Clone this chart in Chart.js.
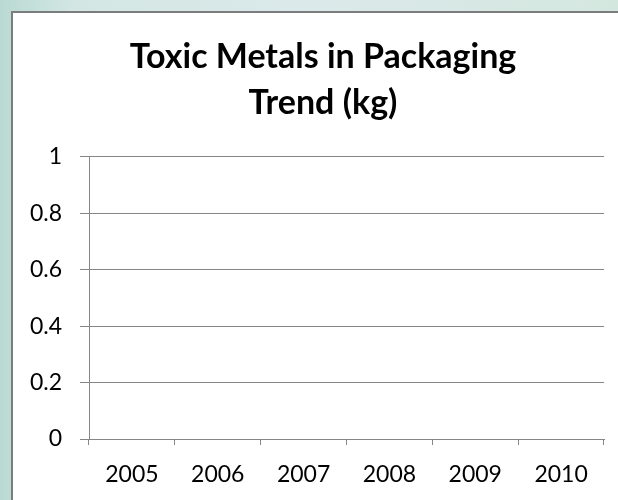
<!DOCTYPE html>
<html>
<head>
<meta charset="utf-8">
<script src="https://cdn.jsdelivr.net/npm/chart.js@4/dist/chart.umd.min.js"></script>
<style>
  html, body { margin: 0; padding: 0; }
  body {
    width: 618px; height: 500px; overflow: hidden; position: relative;
    background: linear-gradient(90deg, #b9dad2 0%, #d3e6e4 12%, #dbe9ea 50%, #d4e7df 100%);
  }
  #panel {
    position: absolute; left: 11px; top: 11px; width: 620px; height: 500px;
    background: #fff; border-left: 2px solid #7b7d7c; border-top: 2px solid #7b7d7c;
  }
  #wrap { position: absolute; left: 14px; top: 14px; width: 604px; height: 486px; }
</style>
</head>
<body>
<div id="panel"></div>
<div id="wrap"><canvas id="trendChart"></canvas></div>
<script>
const years = ['2005', '2006', '2007', '2008', '2009', '2010'];
// no values are plotted in the chart
const toxicKg = [null, null, null, null, null, null];
const yTicks = [0, 0.2, 0.4, 0.6, 0.8, 1];

// y labels sit partly in the left padding, so widen their clip box
const yLabelRoom = {
    id: 'yLabelRoom',
    afterLayout: function (chart) { chart.scales.y.left = 0; }
};

document.addEventListener("DOMContentLoaded", function () {
    const ctx = document.getElementById('trendChart').getContext('2d');
    new Chart(ctx, {
        type: 'line',
        data: {
            labels: years,
            datasets: [{
                label: 'Toxic Metals (kg)',
                data: toxicKg,
                borderColor: '#4a7ebb',
                backgroundColor: '#4a7ebb'
            }]
        },
        plugins: [yLabelRoom],
        options: {
            responsive: true,
            maintainAspectRatio: false,
            animation: false,
            // left padding pushes the title centre right, y axis width compensates
            layout: { padding: { left: 28, right: 14, top: 0, bottom: 0 } },
            plugins: {
                legend: { display: false },
                tooltip: { enabled: false },
                title: {
                    display: true,
                    text: ['Toxic Metals in Packaging', 'Trend (kg)'],
                    color: '#000',
                    font: { family: 'Lato', size: 34, weight: 'bold', lineHeight: 1.35 },
                    padding: { top: 20, bottom: 31 }
                }
            },
            scales: {
                x: {
                    offset: true,
                    grid: {
                        offset: true,
                        drawOnChartArea: false,
                        drawTicks: true,
                        tickLength: 6,
                        color: '#868686'
                    },
                    border: { color: '#868686' },
                    ticks: {
                        color: '#000',
                        font: { family: 'Lato', size: 23 },
                        padding: 16,
                        maxRotation: 0
                    },
                    afterFit: function (scale) { scale.height = 61; }
                },
                y: {
                    min: 0,
                    max: 1,
                    afterBuildTicks: function (scale) {
                        scale.ticks = yTicks.map(v => ({ value: v }));
                    },
                    grid: { color: '#868686', tickLength: 9 },
                    border: { color: '#868686' },
                    ticks: {
                        color: '#000',
                        font: { family: 'Lato', size: 23 },
                        padding: 18,
                        callback: function (value) { return String(value); }
                    },
                    afterFit: function (scale) { scale.width = 47; }
                }
            }
        }
    });
});
</script>
</body>
</html>
